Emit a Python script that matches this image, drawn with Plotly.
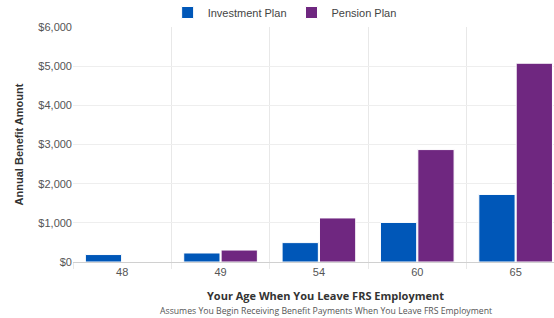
import plotly.graph_objects as go

ages = ["48", "49", "54", "60", "65"]
investment = [190, 230, 495, 1010, 1725]
pension = [0, 305, 1125, 2870, 5075]
y_ticks = [0, 1000, 2000, 3000, 4000, 5000, 6000]
y_tick_labels = ["$0", "$1,000", "$2,000", "$3,000", "$4,000", "$5,000", "$6,000"]

W, H = 554, 318
L, R, T, B = 73, 0, 27, 56
pw = W - L - R

fig = go.Figure()
fig.add_bar(x=ages, y=investment, name="Investment Plan", marker=dict(color="#0057B8", line=dict(color="#ffffff", width=1)))
fig.add_bar(x=ages, y=pension, name="Pension Plan", marker=dict(color="#6F2780", line=dict(color="#ffffff", width=1)))

fig.update_layout(
    width=W, height=H,
    margin=dict(l=L, r=R, t=T, b=B, autoexpand=False),
    paper_bgcolor="white", plot_bgcolor="white",
    barmode="group", bargap=0.24, bargroupgap=0.03,
    font=dict(family="Liberation Sans, Arial, sans-serif", size=11, color="#666666"),
    legend=dict(orientation="h", x=0.44, xanchor="center", y=1.0, yanchor="bottom",
                font=dict(size=11, color="#444444"), itemwidth=30, traceorder="normal"),
    showlegend=True,
)
fig.update_xaxes(
    type="category", range=[-0.5, 4.39], tickson="boundaries", showgrid=True,
    gridcolor="#e8e8e8", ticks="outside", ticklen=6, tickcolor="#e8e8e8",
    showline=True, linecolor="#d0d0d0", linewidth=1,
    tickfont=dict(size=11, color="#555555"), fixedrange=True, automargin=False,
)
fig.update_yaxes(
    range=[0, 6000], tickvals=y_ticks, ticktext=y_tick_labels, showgrid=True,
    gridcolor="#eeeeee", zeroline=False, showline=False,
    tickfont=dict(size=11, color="#555555"), ticks="", fixedrange=True, automargin=False,
    title=dict(text="<b>Annual Benefit Amount</b>", font=dict(size=11, color="#333333"), standoff=12),
)
fig.add_annotation(text="<b>Your Age When You Leave FRS Employment</b>", xref="paper", yref="paper",
                   x=(325 - L) / pw, y=0, yshift=-33, showarrow=False, xanchor="center", yanchor="middle",
                   font=dict(family="Open Sans, Noto Sans, sans-serif", size=11, color="#333333"))
fig.add_annotation(text="Assumes You Begin Receiving Benefit Payments When You Leave FRS Employment",
                   xref="paper", yref="paper", x=(326 - L) / pw, y=0, yshift=-49, showarrow=False,
                   xanchor="center", yanchor="middle",
                   font=dict(family="Open Sans, Noto Sans, sans-serif", size=8.7, color="#555555"))

fig.write_html("out.html", config={"displayModeBar": False},
               post_script="document.body.style.margin='0';document.body.style.overflow='hidden';")
